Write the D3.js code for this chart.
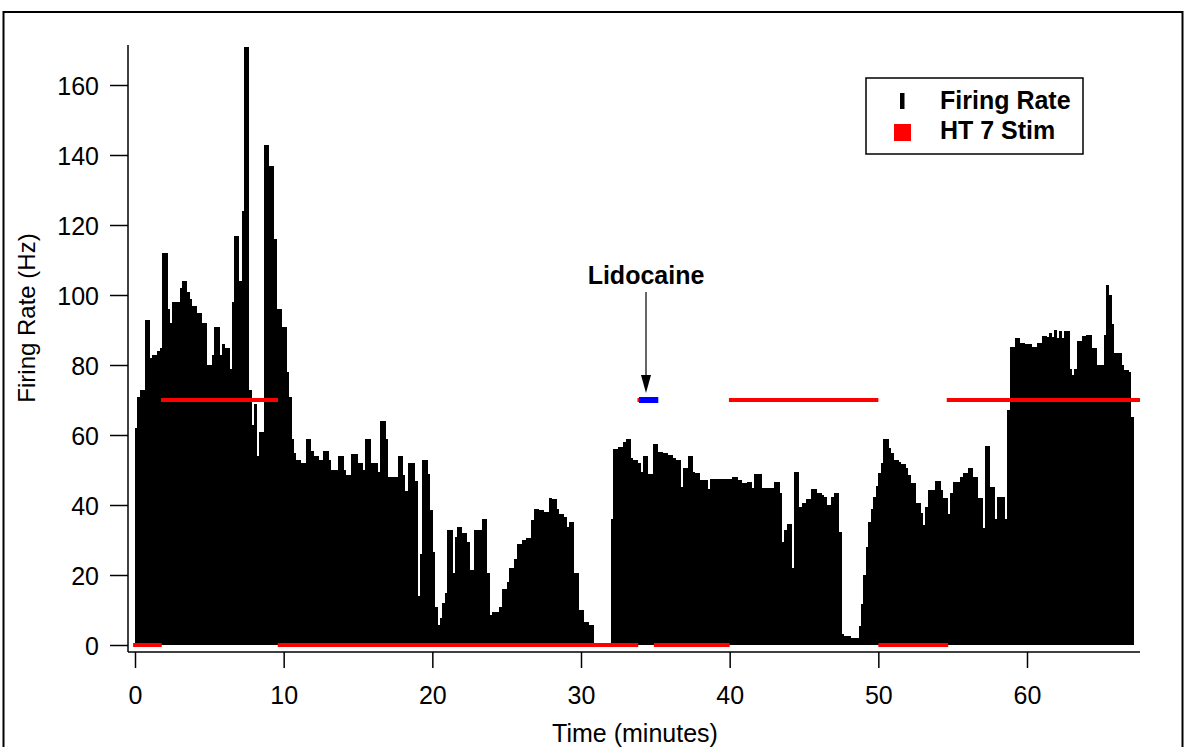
<!DOCTYPE html>
<html>
<head>
<meta charset="utf-8">
<script src="https://cdn.jsdelivr.net/npm/d3@7"></script>
<style>
  body { margin: 0; background: #fff; }
  svg { display: block; font-family: "Liberation Sans", Arial, sans-serif; }
</style>
</head>
<body>
<div id="chart"></div>
<script>
// firing rate histogram, one value per 10 s bin (Hz)
var binSeconds = 10;
var firingRate = [
  // 0 - 11 min
  62, 71, 73, 73, 93, 93, 82, 83, 83, 84, 85, 112, 112, 96, 92, 98, 98, 98, 102, 104,
  104, 101, 99, 97, 97, 95, 95, 92, 92, 80, 80, 83, 91, 91, 83, 86, 85, 85, 79, 98,
  117, 117, 104, 124, 171, 171, 73, 63, 69, 54, 61, 61, 143, 143, 137, 137, 116, 96, 96, 91,
  91, 78, 71, 59, 55, 53,
  // 11 - 19 min
  53, 52, 52, 59, 59, 55.5, 54, 54, 53, 53, 55.5, 55.5, 53, 50, 50, 50, 54, 54, 50, 48.6,
  48.6, 54.6, 54.6, 54.6, 52, 52, 50, 59, 59, 52, 52, 52, 49.5, 64, 64, 59, 48, 48, 48, 48,
  54, 54, 48.6, 44, 52, 52, 52, 47, 14,
  // 19 - 31 min
  26, 53, 53, 49, 38.6, 26.7, 11, 5.7, 7.6, 12, 15, 33, 33, 20.5, 31, 33.8, 33.8, 32, 32, 29.5,
  21.4, 21.4, 33, 33, 33, 36, 36, 20.5, 8.5, 9.5, 9.5, 9.5, 11, 16, 16, 18, 22, 22, 24.5, 29,
  29, 30, 30, 30.5, 30.5, 35.7, 39, 39, 38.6, 38.6, 38, 38, 41.9, 41.6, 41.6, 39, 37.4, 37.4, 36.5, 33.6,
  35.2, 35.2, 20.6, 20.6, 10, 10, 6.5, 6.5, 5.7, 5.7,
  // 31 - 32 min, silent
  0, 0, 0, 0, 0, 0, 0,
  // 32 - 43.5 min
  36, 56, 56, 56.7, 56.7, 58, 58.8, 58.8, 53.3, 52.9, 52.9, 51.9, 49.5, 54, 54, 48.9, 48.9, 57.3, 57.3, 55.2,
  55.2, 54.8, 54.8, 54.3, 54.3, 53.3, 52.9, 52.9, 45.2, 50.5, 50.5, 54, 54, 49.5, 49.2, 49.2, 47.1, 47.1, 47.1, 44.5,
  47.3, 47.3, 47.3, 47.4, 47.4, 47.4, 47.5, 47.5, 47.5, 47.9, 47.9, 47.1, 47.1, 46.2, 46.2, 46.7, 46.7, 45, 49, 49,
  49, 44.8, 44.8, 45, 45, 45, 46.5, 46.5, 43.3,
  // 43.5 - 55.3 min
  29.5, 33, 34.5, 34.5, 21.9, 49.5, 49.5, 39.5, 40.5, 40.5, 41.6, 41.6, 44.5, 44.5, 43.3, 43.3, 42.9, 42.2, 40, 40,
  42.4, 43.3, 43.3, 32.4, 3.1, 2.6, 2.6, 2.6, 1.9, 1.9, 1.9, 5.4, 11.7, 20, 28, 35.2, 39, 42.4, 45.4, 49.2,
  52, 59, 59, 56.2, 55, 53, 53, 52.4, 51.7, 51.7, 50.5, 48.6, 46.2, 46.2, 40.5, 40.5, 37.6, 34.3, 39.5, 44.3,
  44.3, 44.3, 47, 47, 44.3, 41.9, 41.9, 37.4, 43.3, 46.7, 46.7,
  // 55.3 - 67.2 min
  46.7, 48.1, 49.2, 49.2, 50.5, 50.5, 47.9, 47.9, 41.9, 41.9, 33.3, 56.9, 56.9, 45.2, 45.2, 35.9, 42.4, 42.4, 42.4, 35.9,
  67.1, 85.2, 85.2, 87.6, 87.6, 86.4, 86.4, 86, 86, 86, 85.2, 85.2, 86.2, 86.2, 88.3, 88.3, 88.1, 89.2, 88.1, 90,
  87.6, 89.8, 87.6, 89.8, 89.8, 79, 77.1, 79, 87, 87, 88.3, 88.3, 88.6, 88.6, 85, 85, 80, 80, 80, 88.6,
  102.9, 100, 91.7, 83.3, 83.3, 83.3, 80, 78.6, 78.6, 78.1, 65.2
];

// HT 7 stimulation trace: level 0 = off, 70 = on (minutes)
var stimOff = [[-0.13, 1.8], [9.6, 33.85], [34.9, 40], [50, 54.7]];
var stimOn = [[1.75, 9.62], [39.95, 50], [54.6, 67.6]];
var stimOnLevel = 70;
var stimOffLevel = 0;

// lidocaine injection
var lidocaine = [[33.9, 35.2]];
var lidocaineLevel = 70;

var xTicks = [0, 10, 20, 30, 40, 50, 60];
var yTicks = [0, 20, 40, 60, 80, 100, 120, 140, 160];

var width = 1186, height = 747;

var x = d3.scaleLinear().domain([0, 60]).range([135, 1027]);
var y = d3.scaleLinear().domain([0, 160]).range([645, 85]);

var svg = d3.select("#chart").append("svg")
    .attr("width", width)
    .attr("height", height);

// outer frame
svg.append("rect")
    .attr("x", 3.5).attr("y", 12)
    .attr("width", 1179).attr("height", 760)
    .attr("fill", "none").attr("stroke", "#000").attr("stroke-width", 2);

// histogram bars
svg.append("g")
    .selectAll("rect")
    .data(firingRate)
    .enter().append("rect")
    .attr("x", function (d, i) { return x(i * binSeconds / 60); })
    .attr("width", function (d, i) { return x((i + 1) * binSeconds / 60) - x(i * binSeconds / 60) + 0.4; })
    .attr("y", function (d) { return y(d); })
    .attr("height", function (d) { return y(0) - y(d); })
    .attr("fill", "#000")
    .attr("shape-rendering", "crispEdges");

// stim trace
function drawSegments(data, level, color, w) {
    svg.append("g")
        .selectAll("line")
        .data(data)
        .enter().append("line")
        .attr("x1", function (d) { return x(d[0]); })
        .attr("x2", function (d) { return x(d[1]); })
        .attr("y1", y(level))
        .attr("y2", y(level))
        .attr("stroke", color)
        .attr("stroke-width", w);
}
drawSegments(stimOff, stimOffLevel, "#f00", 4);
drawSegments(stimOn, stimOnLevel, "#f00", 4);
drawSegments([[33.8, 33.95]], lidocaineLevel, "#f00", 4);
drawSegments(lidocaine, lidocaineLevel, "#0000ff", 6);

// axes
var yAxis = svg.append("g")
    .attr("transform", "translate(128,0)")
    .call(d3.axisLeft(y).tickValues(yTicks).tickSize(18).tickPadding(11));
var xAxis = svg.append("g")
    .attr("transform", "translate(0,652)")
    .call(d3.axisBottom(x).tickValues(xTicks).tickSize(16));

[yAxis, xAxis].forEach(function (a) {
    a.select(".domain").remove();
    a.selectAll(".tick line").attr("stroke", "#000").attr("stroke-width", 1.5);
    a.selectAll(".tick text")
        .attr("fill", "#000")
        .style("font-family", '"Liberation Sans", Arial, sans-serif')
        .style("font-size", "25px");
});
xAxis.selectAll(".tick text").attr("y", 34).attr("dy", "0.71em");
yAxis.selectAll(".tick text").attr("dy", "0.36em");

// axis lines (Igor style offset)
svg.append("line")
    .attr("x1", 128).attr("x2", 128).attr("y1", 45).attr("y2", 652)
    .attr("stroke", "#000").attr("stroke-width", 1.5);
svg.append("line")
    .attr("x1", 128).attr("x2", 1140).attr("y1", 652).attr("y2", 652)
    .attr("stroke", "#000").attr("stroke-width", 1.5);

// axis titles
svg.append("text")
    .attr("x", 635)
    .attr("y", 742)
    .attr("text-anchor", "middle")
    .style("font-size", "25px")
    .text("Time (minutes)");
svg.append("text")
    .attr("transform", "translate(35,318) rotate(-90)")
    .attr("text-anchor", "middle")
    .style("font-size", "24px")
    .text("Firing Rate (Hz)");

// lidocaine annotation
svg.append("text")
    .attr("x", 646).attr("y", 284)
    .attr("text-anchor", "middle")
    .style("font-size", "25px").style("font-weight", "bold")
    .text("Lidocaine");
svg.append("line")
    .attr("x1", 646).attr("x2", 646).attr("y1", 292).attr("y2", 380)
    .attr("stroke", "#000").attr("stroke-width", 1.2);
svg.append("path")
    .attr("d", "M641,375 L651,375 L646,393 Z")
    .attr("fill", "#000");

// legend
var legend = svg.append("g");
legend.append("rect")
    .attr("x", 866).attr("y", 78).attr("width", 217).attr("height", 76)
    .attr("fill", "#fff").attr("stroke", "#000").attr("stroke-width", 1.5);
legend.append("rect")
    .attr("x", 900).attr("y", 93).attr("width", 4.5).attr("height", 16)
    .attr("fill", "#000");
legend.append("rect")
    .attr("x", 894).attr("y", 124).attr("width", 17).attr("height", 17)
    .attr("fill", "#f00");
legend.append("text")
    .attr("x", 940).attr("y", 109)
    .style("font-size", "25px").style("font-weight", "bold")
    .text("Firing Rate");
legend.append("text")
    .attr("x", 940).attr("y", 139)
    .style("font-size", "25px").style("font-weight", "bold")
    .text("HT 7 Stim");
</script>
</body>
</html>
